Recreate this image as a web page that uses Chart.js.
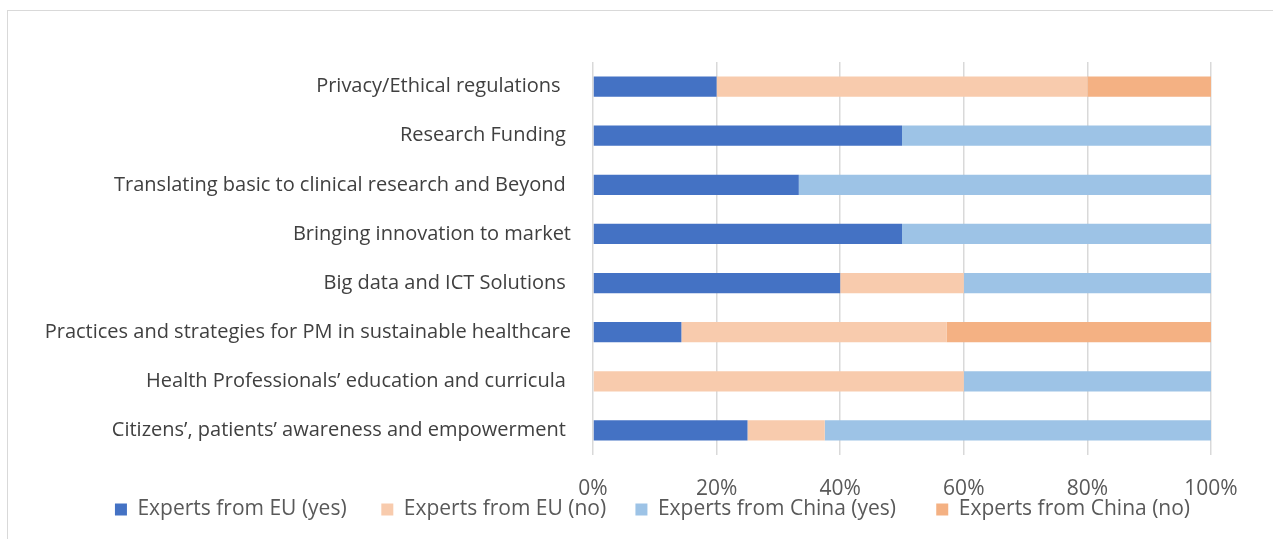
<!DOCTYPE html>
<html>
<head>
<meta charset="utf-8">
<script src="https://cdn.jsdelivr.net/npm/chart.js@4/dist/chart.umd.min.js"></script>
<style>
  html, body { margin: 0; padding: 0; background: #fff; overflow: hidden; }
  #frame { position: absolute; left: 7px; top: 10px; width: 1300px; height: 600px; border: 1px solid #d9d9d9; box-sizing: border-box; }
  #wrap { position: absolute; left: 0; top: 0; width: 1273px; height: 539px; }
</style>
</head>
<body>
<div id="frame"></div>
<div id="wrap"><canvas id="c" width="1273" height="539"></canvas></div>
<script>
const categories = [
  "Privacy/Ethical regulations  ",
  "Research Funding ",
  "Translating basic to clinical research and Beyond ",
  "Bringing innovation to market",
  "Big data and ICT Solutions ",
  "Practices and strategies for PM in sustainable healthcare",
  "Health Professionals\u2019 education and curricula ",
  "Citizens\u2019, patients\u2019 awareness and empowerment "
];
const seriesNames = ["Experts from EU (yes)", "Experts from EU (no)", "Experts from China (yes)", "Experts from China (no)"];
const euYes    = [20, 50, 33.3, 50, 40, 14.3, 0, 25];
const euNo     = [60, 0, 0, 0, 20, 42.9, 60, 12.5];
const chinaYes = [0, 50, 66.7, 50, 40, 0, 40, 62.5];
const chinaNo  = [20, 0, 0, 0, 0, 42.8, 0, 0];
const xTicks = [0, 20, 40, 60, 80, 100];
const colors = ["#4472C4", "#F8CBAD", "#9DC3E6", "#F4B183"];

const FONT = "'Open Sans', 'Noto Sans', sans-serif";
const values = [euYes, euNo, chinaYes, chinaNo];
const legendGaps = ["      ", "     ", "       ", ""];

const legendShift = {
  id: 'legendShift',
  afterLayout(chart) {
    const lg = chart.legend;
    if (lg) { lg.left += 47; lg.right += 47; }
  }
};

new Chart(document.getElementById('c'), {
  type: 'bar',
  data: {
    labels: categories,
    datasets: seriesNames.map((n, i) => ({
      label: n,
      data: values[i],
      backgroundColor: colors[i],
      borderWidth: 0,
      barPercentage: 0.41,
      categoryPercentage: 1.0
    }))
  },
  plugins: [legendShift],
  options: {
    indexAxis: 'y',
    responsive: false,
    animation: false,
    layout: { padding: { top: 62, bottom: 9, left: 0, right: 62 } },
    plugins: {
      legend: {
        position: 'bottom',
        labels: {
          font: { family: FONT, size: 21 },
          color: '#595959',
          boxWidth: 12,
          boxHeight: 12,
          padding: 2,
          generateLabels: chart => {
            const items = Chart.defaults.plugins.legend.labels.generateLabels(chart);
            items.forEach((it, i) => { it.text = it.text + legendGaps[i]; });
            return items;
          }
        }
      },
      tooltip: { enabled: false }
    },
    scales: {
      x: {
        stacked: true,
        min: 0, max: 100,
        afterBuildTicks: s => { s.ticks = xTicks.map(v => ({ value: v })); },
        afterFit: s => { s.height = 42; },
        ticks: {
          callback: v => v + '%',
          font: { family: FONT, size: 21, lineHeight: 1 },
          color: '#595959',
          padding: 24
        },
        grid: { color: '#d9d9d9', lineWidth: 1.5, drawTicks: false },
        border: { display: false }
      },
      y: {
        stacked: true,
        afterFit: s => { s.width = 593; },
        ticks: {
          font: { family: FONT, size: 20 },
          color: '#404040',
          padding: 22,
          autoSkip: false
        },
        grid: { display: false, drawTicks: false },
        border: { display: false }
      }
    }
  }
});
</script>
</body>
</html>
